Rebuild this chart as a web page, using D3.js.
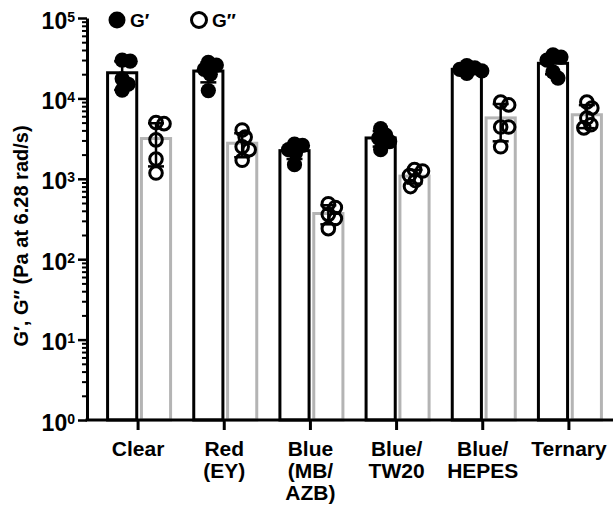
<!DOCTYPE html>
<html lang="en">
<head>
    <meta charset="UTF-8">
    <title>G' and G'' bar chart</title>
    <script src="https://d3js.org/d3.v7.min.js"></script>
    <style>
        body {
            margin: 0;
            padding: 0;
            background-color: #fff;
            font-family: "Liberation Sans", Arial, sans-serif;
        }
        text {
            font-weight: bold;
            fill: #000;
        }
    </style>
</head>
<body>
    <div id="chart"></div>
    <script>
        // x tick labels, one list of lines per category
        const categories = ["Clear", "Red (EY)", "Blue (MB/AZB)", "Blue/TW20", "Blue/HEPES", "Ternary"];
        const categoryLines = [["Clear"], ["Red", "(EY)"], ["Blue", "(MB/", "AZB)"], ["Blue/", "TW20"], ["Blue/", "HEPES"], ["Ternary"]];

        const seriesNames = ["G\u2032", "G\u2033"];

        // storage modulus G' (Pa), 5 replicates each
        const gPrime = [
            [30000, 29000, 17500, 15000, 12700],
            [28000, 26000, 23000, 20000, 12500],
            [2700, 2600, 2300, 2100, 1500],
            [4200, 3500, 3200, 2900, 2300],
            [25500, 24000, 23000, 22000, 20500],
            [34700, 32700, 30000, 21300, 17900]
        ];

        // loss modulus G'' (Pa)
        const gDouble = [
            [5000, 4850, 3050, 1760, 1180],
            [4050, 3300, 2500, 2300, 1700],
            [490, 440, 360, 320, 240],
            [1300, 1250, 1100, 950, 800],
            [9000, 8300, 4400, 4400, 2500],
            [9000, 7600, 5700, 4700, 4300]
        ];

        const yTickValues = [1, 10, 100, 1000, 10000, 100000];

        const width = 613, height = 507;
        const svg = d3.select("#chart").append("svg")
            .attr("width", width)
            .attr("height", height);

        const axisX = 87, axisY = 420;

        const y = d3.scaleLog()
            .domain([1, 100000])
            .range([axisY, 18]);

        const x = d3.scaleBand()
            .domain(categories)
            .range([95, 612])
            .padding(0);

        const sub = d3.scaleBand()
            .domain(seriesNames)
            .range([-32, 34])
            .paddingInner(0.05);

        const colors = { "G\u2032": "#000", "G\u2033": "#b4b4b4" };
        const r = 6.3;

        const data = categories.map((c, i) => ({
            cat: c,
            groups: [
                { name: seriesNames[0], vals: gPrime[i] },
                { name: seriesNames[1], vals: gDouble[i] }
            ]
        }));

        data.forEach(d => {
            const cx = x(d.cat) + x.bandwidth() / 2;
            d.groups.forEach(g => {
                g.mean = d3.mean(g.vals);
                g.sd = d3.deviation(g.vals);
                g.x0 = cx + sub(g.name);
                g.cx = g.x0 + sub.bandwidth() / 2;
            });
        });

        // bars
        const barG = svg.append("g");
        data.forEach(d => {
            barG.selectAll(null)
                .data(d.groups)
                .join("rect")
                .attr("x", g => g.x0 + 1.5)
                .attr("width", sub.bandwidth() - 3)
                .attr("y", g => y(g.mean))
                .attr("height", g => axisY - y(g.mean))
                .attr("fill", "#fff")
                .attr("stroke", g => colors[g.name])
                .attr("stroke-width", 3);
        });

        // simple swarm, points may overlap by about half
        function swarm(vals, cx) {
            const placed = [];
            vals.slice().sort((a, b) => b - a).forEach(v => {
                const py = y(v);
                let off = 0;
                for (let k = 0; k < 80; k++) {
                    const cand = k === 0 ? 0 : (k % 2 ? 1 : -1) * Math.ceil(k / 2);
                    if (placed.every(p => Math.hypot(p.x - (cx + cand), p.y - py) >= r * 1.2)) {
                        off = cand;
                        break;
                    }
                }
                placed.push({ x: cx + off, y: py });
            });
            return placed;
        }

        const ptG = svg.append("g");
        data.forEach(d => {
            d.groups.forEach((g, gi) => {
                const pts = swarm(g.vals, g.cx);
                ptG.selectAll(null)
                    .data(pts)
                    .join("circle")
                    .attr("cx", p => p.x)
                    .attr("cy", p => p.y)
                    .attr("r", gi === 0 ? r + 1.3 : r)
                    .attr("fill", gi === 0 ? "#000" : "none")
                    .attr("stroke", gi === 0 ? "none" : "#000")
                    .attr("stroke-width", 3);
            });
        });

        // error bars: mean +/- SD
        const errG = svg.append("g")
            .attr("stroke", "#000")
            .attr("stroke-width", 2.5);
        data.forEach(d => {
            d.groups.forEach(g => {
                const top = y(g.mean + g.sd);
                const bot = y(Math.max(g.mean - g.sd, 1));
                errG.append("line")
                    .attr("x1", g.cx).attr("x2", g.cx)
                    .attr("y1", top).attr("y2", bot);
                [top, bot].forEach(yy => {
                    errG.append("line")
                        .attr("x1", g.cx - 8).attr("x2", g.cx + 8)
                        .attr("y1", yy).attr("y2", yy);
                });
            });
        });

        // y axis
        const minorTicks = [];
        for (let e = 0; e < 5; e++) {
            for (let m = 2; m <= 9; m++) minorTicks.push(m * Math.pow(10, e));
        }

        svg.append("g")
            .attr("transform", `translate(${axisX},0)`)
            .call(d3.axisLeft(y).tickValues(minorTicks).tickSize(5).tickFormat(""))
            .call(g => g.select(".domain").remove())
            .call(g => g.selectAll("line").attr("stroke-width", 2));

        const yAxis = svg.append("g")
            .attr("transform", `translate(${axisX},0)`)
            .call(d3.axisLeft(y).tickValues(yTickValues).tickSize(9).tickSizeOuter(0).tickFormat(""));
        yAxis.select(".domain").attr("stroke-width", 3);
        yAxis.selectAll("line").attr("stroke-width", 2.5);
        yAxis.selectAll(".tick text").remove();
        yAxis.selectAll(".tick").append("text")
            .attr("x", -12)
            .attr("y", 10)
            .attr("text-anchor", "end")
            .style("font-size", "23px")
            .each(function (v) {
                const t = d3.select(this);
                t.append("tspan").text("10");
                t.append("tspan")
                    .attr("dy", -7)
                    .style("font-size", "14px")
                    .text(Math.round(Math.log10(v)));
            });

        // x axis
        const xAxis = svg.append("g")
            .attr("transform", `translate(0,${axisY})`)
            .call(d3.axisBottom(x).tickSize(10).tickSizeOuter(0).tickFormat(""));
        xAxis.select(".domain").remove();
        xAxis.selectAll("line").attr("stroke-width", 3);
        xAxis.append("line")
            .attr("x1", axisX - 1.5).attr("x2", width)
            .attr("stroke", "#000")
            .attr("stroke-width", 3);
        xAxis.selectAll(".tick").append("text")
            .attr("text-anchor", "middle")
            .style("font-size", "21px")
            .each(function (c, i) {
                const t = d3.select(this);
                categoryLines[i].forEach((ln, j) => {
                    t.append("tspan")
                        .attr("x", 0)
                        .attr("y", 36 + j * 22)
                        .text(ln);
                });
            });

        // y title
        svg.append("text")
            .attr("transform", "translate(28,236) rotate(-90)")
            .attr("text-anchor", "middle")
            .style("font-size", "20px")
            .text("G\u2032, G\u2033 (Pa at 6.28 rad/s)");

        // legend
        const legend = svg.append("g");
        const legendX = [117, 199];
        seriesNames.forEach((name, i) => {
            const lg = legend.append("g").attr("transform", `translate(${legendX[i]},20)`);
            lg.append("circle")
                .attr("r", i === 0 ? 8.5 : 7.5)
                .attr("fill", i === 0 ? "#000" : "none")
                .attr("stroke", i === 0 ? "none" : "#000")
                .attr("stroke-width", 3);
            lg.append("text")
                .attr("x", 13)
                .attr("y", 7)
                .style("font-size", "19px")
                .text(name);
        });
    </script>
</body>
</html>
